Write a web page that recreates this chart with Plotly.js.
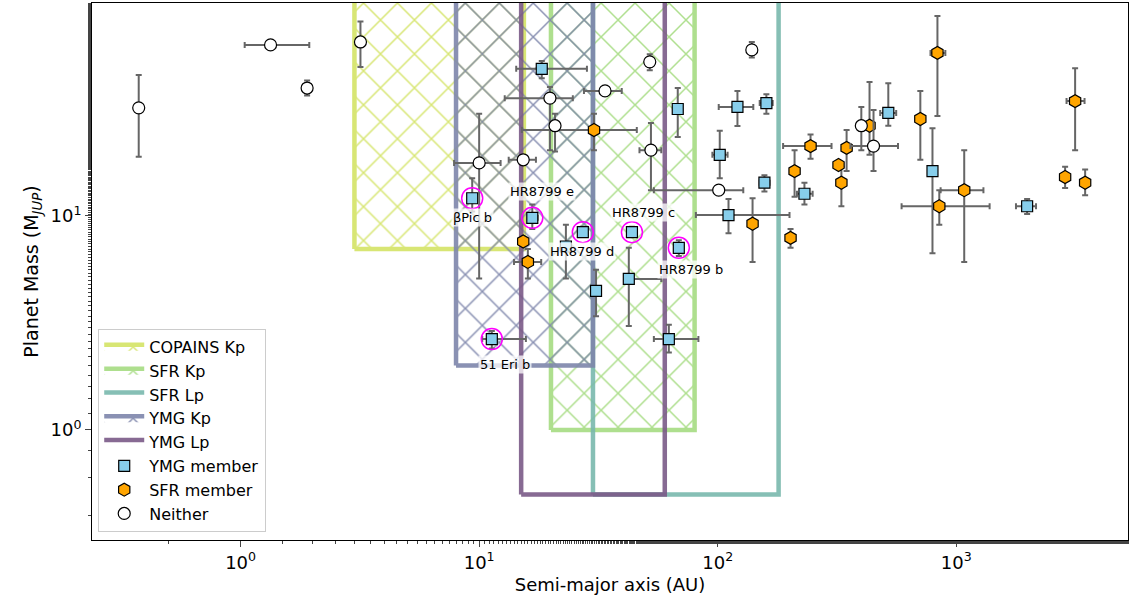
<!DOCTYPE html>
<html><head><meta charset="utf-8">
<script src="https://cdn.plot.ly/plotly-3.0.1.min.js"></script>
<style>body{margin:0}#c{width:1130px;height:604px}</style></head>
<body><div id="c"></div><script>
// Survey regions: [aMin, aMax, mMin, mMax]
const regionNames = ['COPAINS Kp','SFR Kp','SFR Lp','YMG Kp','YMG Lp'];
const regionAMin = [3, 20, 30, 8, 15];
const regionAMax = [15.4, 80, 180, 30, 60];
const regionMMin = [7, 1, 0.5, 2, 0.5];
const regionMMax = [300, 300, 300, 300, 300];
const regionColors = ['#d4e466','#a6dc82','#79b9ad','#7e86ab','#7b5a88'];
const regionHatch = [true, true, false, true, false];

// YMG members
const ymgA   = [9.35,16.7,27.2,43.7,68.7,11.3,18.3,68,121,160,102,157,111,23.1,30.9,42.4,62.4,519,795,231,1982];
const ymgALo = [9.35,16.0,27.2,43.7,68.7,10.3,14.3,68,101,150,95,150,81,23.1,30.9,42.4,54,480,795,215,1780];
const ymgAHi = [9.35,17.6,27.2,43.7,68.7,15.7,28.3,68,141,170,110,165,200,23.1,30.9,58,83,560,795,250,2160];
const ymgM   = [12.1,9.8,8.4,8.4,7.1,2.66,48.7,31.6,32.3,33.7,19.3,14.3,10.1,7.2,4.47,5.08,2.66,30.3,16.2,12.7,11.1];
const ymgMLo = [10.5,8.7,8.0,8.0,6.5,2.4,44,23.4,26.3,30,15,13,8.3,5.1,3.4,3.06,2.3,26.4,6.7,11.3,10.2];
const ymgMHi = [15,11.3,8.9,8.9,7.7,2.9,53,39.6,38.4,37,25,15.5,12,9.1,5.6,7.1,3.1,41.7,25.7,14.3,12];

// SFR members
const sfrA   = [30.3,15.3,16,140,202,210,245,347,321,330,433,707,834,849,1080,2860,3470,3150];
const sfrALo = [15.1,15.3,14,140,202,210,188,347,321,330,433,707,780,590,860,2860,3470,2900];
const sfrAHi = [45.8,15.3,18.2,140,202,210,300,347,321,330,433,707,900,1380,1300,2860,3470,3450];
const sfrM   = [25.2,7.6,6.1,9.2,7.9,16.2,21.2,20.8,17.3,14.3,26.4,28.4,57.8,11.1,13.2,15.2,14.3,34.4];
const sfrMLo = [20.3,7.6,5.1,6.1,7.1,12.3,18.5,16.2,17.3,11.1,19.3,18.3,29.3,9.1,6.1,13.5,12.5,20.3];
const sfrMHi = [30,7.6,7,12.1,8.7,20.3,24,25.2,17.3,17,42.3,38.4,86,13.2,20.3,17,16.5,49];

// Neither
const neiA   = [0.374,1.335,1.9,3.18,10.0,15.3,19.8,20.8,33.7,51.9,52.5,101,139,400,450];
const neiALo = [0.374,1.04,1.9,3.18,7.85,13.3,12.8,20.8,27.5,51.9,47,54,139,400,360];
const neiAHi = [0.374,1.94,1.9,3.18,12.3,17.3,24.7,20.8,39.6,51.9,58,128,139,400,570];
const neiM   = [32,63,39.6,65,17.7,18.3,35.5,26.4,38.4,52.5,20.3,13.2,59.7,26.4,21.2];
const neiMLo = [18.9,63,36.5,49.7,5.1,18.3,20.3,20,38.4,48,13.2,13.2,55,20.3,16.2];
const neiMHi = [45.6,63,43,81,30,18.3,40,30,38.4,57,27.2,13.2,65,32.3,31.3];

// Highlighted planets (indices into YMG arrays) and labels
const hlIdx = [0,1,2,3,4,5];
const hlLabels = ['βPic b','HR8799 e','HR8799 d','HR8799 c','HR8799 b','51 Eri b'];
const labelX = [0.971,1.264,1.431,1.690,1.887,1.109];
const labelY = [0.991,1.112,0.832,1.014,0.748,0.308];

const traces = [];
regionNames.forEach((n,i)=>{
  const x0=regionAMin[i], x1=regionAMax[i], y0=regionMMin[i], y1=regionMMax[i];
  const t = {type:'scatter', mode:'lines', name:n, x:[x0,x1,x1,x0,x0], y:[y0,y0,y1,y1,y0],
    line:{color:regionColors[i], width:4.5}, opacity:0.9, fill:'toself', fillcolor:'rgba(0,0,0,0)', hoverinfo:'skip'};
  if(regionHatch[i]) t.fillpattern = {shape:'x', fgcolor:regionColors[i], bgcolor:'rgba(0,0,0,0)', size:24, solidity:0.12, fgopacity:1};
  traces.push(t);
});
function err(v,lo,hi){return {type:'data',symmetric:false,array:hi.map((h,i)=>h-v[i]),arrayminus:lo.map((l,i)=>v[i]-l),color:'#666',thickness:2,width:3};}
function pts(name,a,alo,ahi,m,mlo,mhi,sym,col,size){
  return {type:'scatter',mode:'markers',name:name,x:a,y:m,error_x:err(a,alo,ahi),error_y:err(m,mlo,mhi),
    marker:{symbol:sym,color:col,size:size,line:{color:'#000',width:1.2}}};
}
traces.push(pts('YMG member',ymgA,ymgALo,ymgAHi,ymgM,ymgMLo,ymgMHi,'square','#87ceeb',11));
traces.push(pts('SFR member',sfrA,sfrALo,sfrAHi,sfrM,sfrMLo,sfrMHi,'hexagon','#ffa500',13));
traces.push(pts('Neither',neiA,neiALo,neiAHi,neiM,neiMLo,neiMHi,'circle','#ffffff',12));
traces.push({type:'scatter',mode:'markers',showlegend:false,x:hlIdx.map(i=>ymgA[i]),y:hlIdx.map(i=>ymgM[i]),
  marker:{symbol:'circle-open',size:21,color:'#ff00ff',line:{width:1.5,color:'#ff00ff'}},hoverinfo:'skip'});

const annotations = hlLabels.map((t,i)=>({x:labelX[i],y:labelY[i],xref:'x',yref:'y',text:t,showarrow:false,
  font:{size:13,color:'#000',family:'DejaVu Sans'},bgcolor:'rgba(255,255,255,0.75)'}));

const tickV=[1,10,100,1000], tickT=['10<sup>0</sup>','10<sup>1</sup>','10<sup>2</sup>','10<sup>3</sup>'];
const layout = {
  width:1130,height:604,margin:{l:92,r:2,t:3,b:64},paper_bgcolor:'#fff',plot_bgcolor:'#fff',
  font:{family:'DejaVu Sans',size:14,color:'#000'},
  xaxis:{type:'log',range:[-0.623,3.72],tickvals:tickV,ticktext:tickT,ticks:'outside',ticklen:6,showgrid:false,zeroline:false,
    showline:true,mirror:true,linecolor:'#000',linewidth:1,tickfont:{size:18},
    minor:{ticks:'outside',ticklen:3,showgrid:false},
    title:{text:'Semi-major axis (AU)',font:{size:18},standoff:6}},
  yaxis:{type:'log',range:[-0.514,1.995],tickvals:[1,10],ticktext:['10<sup>0</sup>','10<sup>1</sup>'],ticks:'outside',ticklen:6,showgrid:false,zeroline:false,
    showline:true,mirror:true,linecolor:'#000',linewidth:1,tickfont:{size:18},
    minor:{ticks:'outside',ticklen:3,showgrid:false},
    title:{text:'Planet Mass (M<sub><i>JUP</i></sub>)',font:{size:19},standoff:6}},
  legend:{x:0.006,y:0.015,xanchor:'left',yanchor:'bottom',bgcolor:'rgba(255,255,255,0.9)',bordercolor:'#ccc',borderwidth:1,
    font:{size:16},tracegroupgap:0,itemwidth:40},
  annotations:annotations,showlegend:true
};
Plotly.newPlot('c',traces,layout,{displayModeBar:false,staticPlot:true});
</script></body></html>
